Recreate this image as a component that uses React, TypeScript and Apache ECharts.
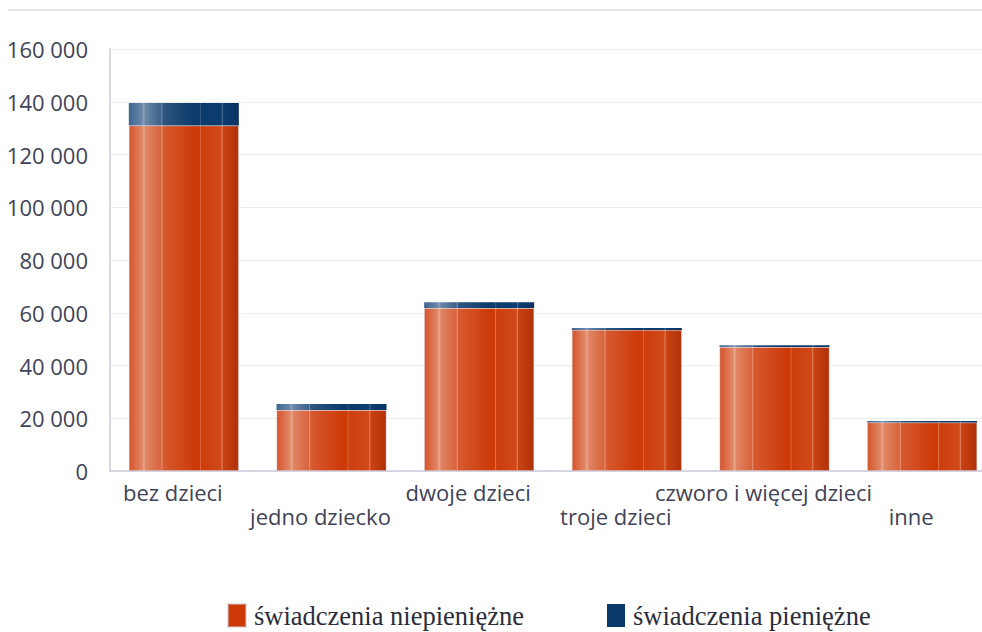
import React, { useEffect, useRef } from "react";
import * as echarts from "echarts";

const categories = ["bez dzieci", "jedno dziecko", "dwoje dzieci", "troje dzieci", "czworo i więcej dzieci", "inne"];
const nonCash = [131000, 23100, 61800, 53500, 47000, 18400];
const cash = [8500, 2300, 2200, 700, 700, 600];
const seriesNames = ["świadczenia niepieniężne", "świadczenia pieniężne"];
const yMax = 160000;
const yStep = 20000;

const orangeGrad = new echarts.graphic.LinearGradient(0, 0, 1, 0, [
  { offset: 0, color: "#d6542a" },
  { offset: 0.12, color: "#e08868" },
  { offset: 0.135, color: "#eca88e" },
  { offset: 0.15, color: "#e08565" },
  { offset: 0.29, color: "#d8643c" },
  { offset: 0.3, color: "#e88e6e" },
  { offset: 0.31, color: "#d65a30" },
  { offset: 0.6, color: "#cc3a08" },
  { offset: 0.645, color: "#cc3a08" },
  { offset: 0.65, color: "#e0704a" },
  { offset: 0.66, color: "#cd3e0c" },
  { offset: 0.84, color: "#d04a1a" },
  { offset: 0.85, color: "#e07e58" },
  { offset: 0.86, color: "#c94414" },
  { offset: 1, color: "#b03008" },
]);

const blueGrad = new echarts.graphic.LinearGradient(0, 0, 1, 0, [
  { offset: 0, color: "#3f6690" },
  { offset: 0.12, color: "#6a88a8" },
  { offset: 0.135, color: "#8aa2bc" },
  { offset: 0.15, color: "#6a88a8" },
  { offset: 0.29, color: "#3d6188" },
  { offset: 0.3, color: "#6f8cab" },
  { offset: 0.31, color: "#2f557f" },
  { offset: 0.6, color: "#0b3a6b" },
  { offset: 0.645, color: "#0b3a6b" },
  { offset: 0.65, color: "#3a5f88" },
  { offset: 0.66, color: "#0b3a6b" },
  { offset: 0.84, color: "#0d3d70" },
  { offset: 0.85, color: "#4a6d95" },
  { offset: 0.86, color: "#0d3d70" },
  { offset: 1, color: "#0a3260" },
]);

export default function App() {
  const ref = useRef<HTMLDivElement>(null);
  useEffect(() => {
    if (!ref.current) return;
    const chart = echarts.init(ref.current, null, { renderer: "svg" });
    chart.setOption({
      animation: false,
      backgroundColor: "#ffffff",
      textStyle: { fontFamily: "Open Sans" },
      graphic: [
        {
          type: "rect",
          shape: { x: 8, y: 9, width: 980, height: 2 },
          style: { fill: "#e6e6ea" },
          silent: true,
        },
      ],
      legend: {
        left: 227,
        top: 602,
        padding: 0,
        itemWidth: 18,
        itemHeight: 23,
        itemGap: 83,
        icon: "rect",
        textStyle: {
          fontFamily: "Liberation Serif",
          fontSize: 26.5,
          lineHeight: 24,
          color: "#2b2d3d",
          padding: [0, 0, 0, 3],
        },
        data: [
          { name: seriesNames[0], itemStyle: { color: "#cc3a08" } },
          { name: seriesNames[1], itemStyle: { color: "#0b3a6b" } },
        ],
      },
      grid: {
        left: 110,
        right: -14,
        top: 49,
        bottom: 161,
        containLabel: false,
        outerBoundsMode: "none",
      },
      xAxis: {
        type: "category",
        data: categories,
        axisLine: { lineStyle: { color: "#ccccdd", width: 1.5 } },
        axisTick: { show: false },
        axisLabel: {
          interval: 0,
          margin: 9,
          fontSize: 22,
          lineHeight: 24,
          color: "#3f4357",
          padding: [0, 22, 0, 0],
          formatter: (v: string, i: number) => (i % 2 ? "\n" + v : v),
        },
      },
      yAxis: {
        type: "value",
        min: 0,
        max: yMax,
        interval: yStep,
        axisLine: { show: true, lineStyle: { color: "#ccccdd", width: 1.5 } },
        axisTick: { show: false },
        splitLine: { lineStyle: { color: "#ececf0", width: 1 } },
        axisLabel: {
          margin: 22,
          fontSize: 22,
          color: "#3f4357",
          formatter: (v: number) => String(v).replace(/\B(?=(\d{3})+(?!\d))/g, " "),
        },
      },
      series: [
        {
          name: seriesNames[0],
          type: "bar",
          stack: "s",
          barWidth: 110,
          data: nonCash,
          itemStyle: { color: orangeGrad, borderColor: "rgba(210,200,215,0.5)", borderWidth: 0.8 },
        },
        {
          name: seriesNames[1],
          type: "bar",
          stack: "s",
          barWidth: 110,
          data: cash,
          itemStyle: { color: blueGrad },
        },
      ],
    });
    return () => chart.dispose();
  }, []);
  return <div ref={ref} style={{ position: "fixed", left: 0, top: 0, width: 982, height: 632 }} />;
}
